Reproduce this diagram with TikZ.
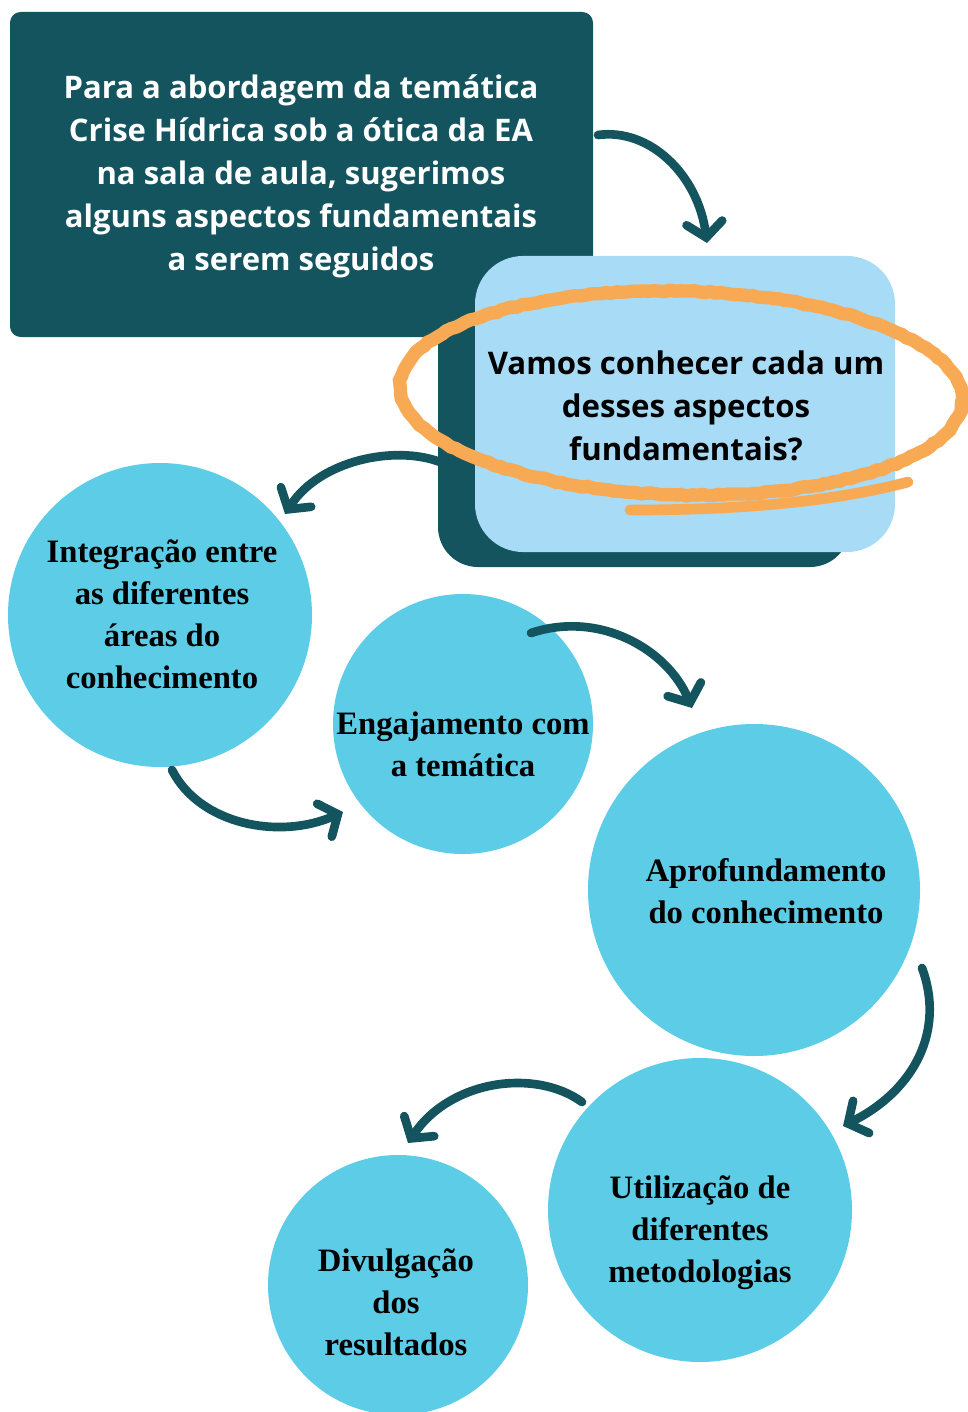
\documentclass[tikz,border=0pt]{standalone}
\usepackage{fontspec}
\setmainfont{Open Sans}
\newfontfamily\circfont{Liberation Serif}
\usetikzlibrary{arrows.meta,decorations.pathmorphing}
\definecolor{teal}{HTML}{13545E}
\definecolor{lightbox}{HTML}{A8DBF6}
\definecolor{circ}{HTML}{5DCDE7}
\definecolor{orng}{HTML}{F7A954}
\tikzset{
  circnode/.style={circle,fill=circ,inner sep=0pt},
  circtext/.style={font=\circfont\bfseries\fontsize{24.5}{31.5}\selectfont,align=center,text=black},
  swoosh/.style={draw=teal,line width=6.5pt,line cap=round,-{Straight Barb[length=11pt,width=27pt,line cap=round]}},
}
\begin{document}
\begin{tikzpicture}[x=0.75pt,y=-0.75pt]
\useasboundingbox (0,0) rectangle (967,1412);
% top dark box
\fill[teal,rounded corners=8pt] (10,12) rectangle (593,337);
\node[font=\bfseries\fontsize{23.3}{32.3}\selectfont,text=white,align=center] (title) at (301,176)
  {Para a abordagem da temática\\Crise Hídrica sob a ótica da EA\\na sala de aula, sugerimos\\alguns aspectos fundamentais\\a serem seguidos};
% shadow and light box
\fill[teal,rounded corners=30pt] (438,300) rectangle (850,567);
\fill[lightbox,rounded corners=36pt] (475,256) rectangle (895,552);
% orange ellipse
\draw[orng,line width=10pt,decorate,decoration={random steps,segment length=4pt,amplitude=0.6pt}]
  (681,393) ellipse [x radius=281, y radius=102, rotate=-1.5];
\draw[orng,line width=8pt,line cap=round] (908,482) .. controls (820,505) and (720,510) .. (630,510);
\node[font=\bfseries\fontsize{23.4}{32.3}\selectfont,text=black,align=center] (question) at (686,406)
  {Vamos conhecer cada um\\desses aspectos\\fundamentais?};
% circles
\node[circnode,minimum size=228pt] (c1) at (160,615) {};
\node[circnode,minimum size=195pt] (c2) at (463,724) {};
\node[circnode,minimum size=249pt] (c3) at (754,890) {};
\node[circnode,minimum size=228pt] (c4) at (700,1210) {};
\node[circnode,minimum size=195pt] (c5) at (398,1285) {};
\node[circtext] (t1) at (162,614) {Integração entre\\as diferentes\\áreas do\\conhecimento};
\node[circtext] (t2) at (463,744) {Engajamento com\\a temática};
\node[circtext] (t3) at (766,891) {Aprofundamento\\do conhecimento};
\node[circtext] (t4) at (700,1233) {Utilização de\\diferentes\\metodologias};
\node[circtext] (t5) at (396,1302) {Divulgação\\dos\\resultados};
% arrows
\coordinate (a1s) at (598,135); \coordinate (a1e) at (707,243);
\coordinate (a2s) at (440,462); \coordinate (a2e) at (285,514);
\coordinate (a3s) at (172,770); \coordinate (a3e) at (343,812);
\coordinate (a4s) at (531,633); \coordinate (a4e) at (692,708);
\coordinate (a5s) at (922,968); \coordinate (a5e) at (843,1126);
\coordinate (a6s) at (582,1102); \coordinate (a6e) at (408,1143);
\draw[swoosh] (a1s) .. controls (650,128) and (698,175) .. (a1e);
\draw[swoosh] (a2s) .. controls (395,445) and (320,460) .. (a2e);
\draw[swoosh] (a3s) .. controls (200,825) and (280,840) .. (a3e);
\draw[swoosh] (a4s) .. controls (600,610) and (668,650) .. (a4e);
\draw[swoosh] (a5s) .. controls (945,1030) and (915,1090) .. (a5e);
\draw[swoosh] (a6s) .. controls (535,1068) and (450,1080) .. (a6e);
\end{tikzpicture}
\end{document}
